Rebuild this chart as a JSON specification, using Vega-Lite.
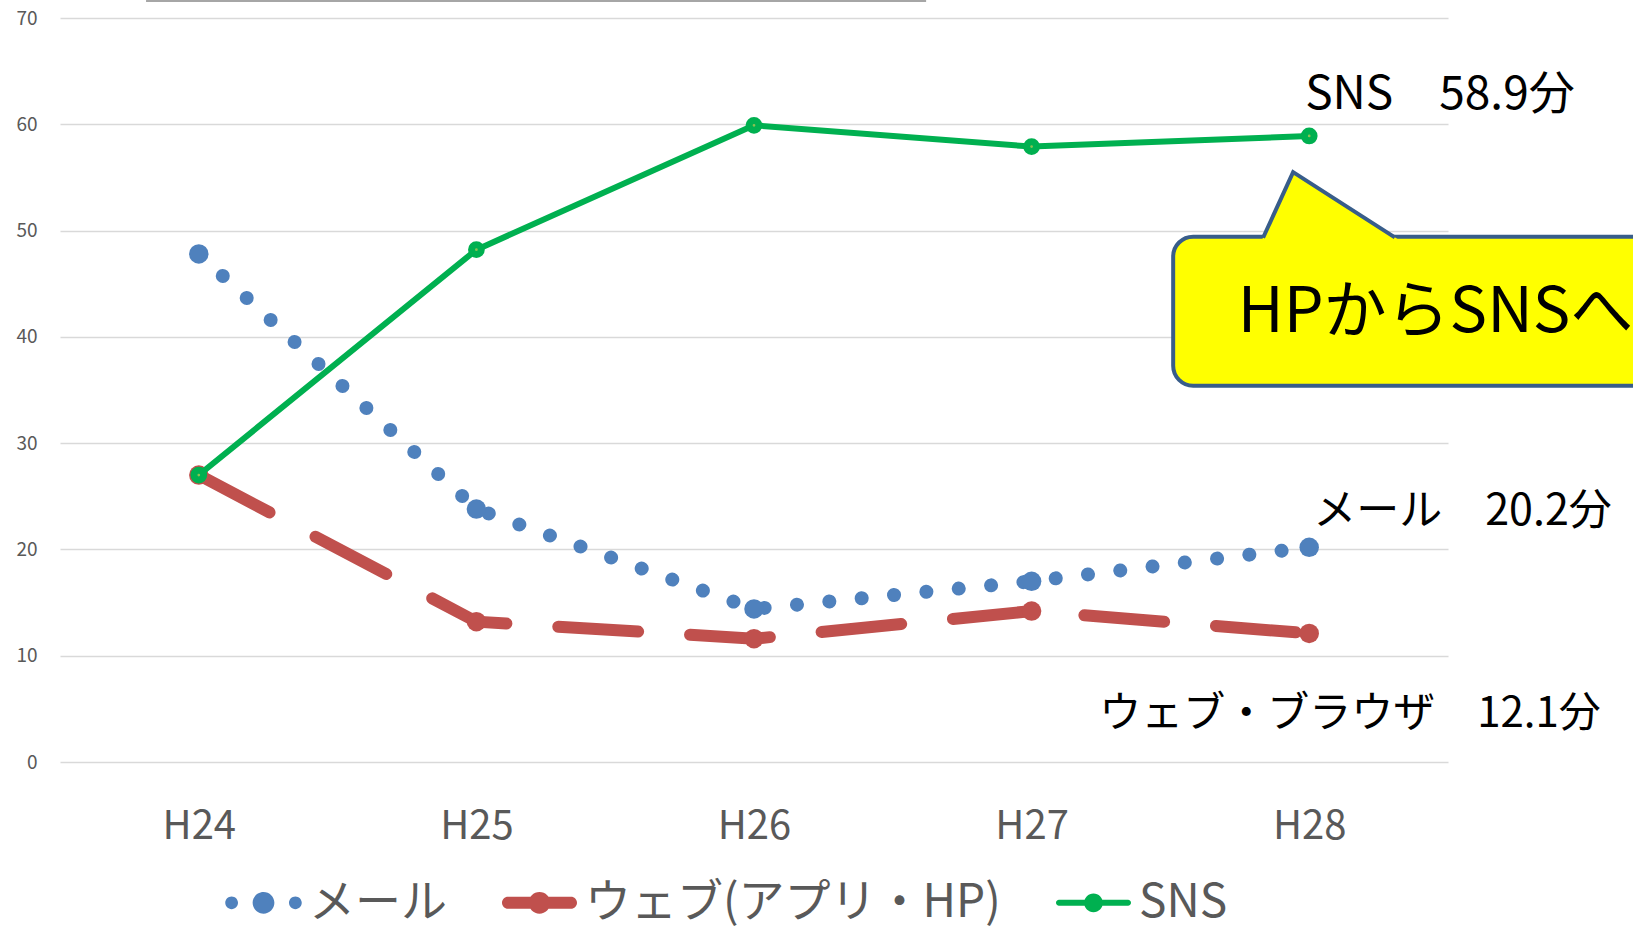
{
  "$schema": "https://vega.github.io/schema/vega-lite/v6.json",
  "width": 1388,
  "height": 744,
  "autosize": {"type": "none"},
  "padding": {"left": 60, "top": 18, "right": 185, "bottom": 168},
  "background": "white",
  "config": {"view": {"stroke": null}, "font": "Noto Sans CJK JP"},
  "data": {"values": [
    {"year": 24, "series": "メール", "value": 47.8},
    {"year": 25, "series": "メール", "value": 23.8},
    {"year": 26, "series": "メール", "value": 14.4},
    {"year": 27, "series": "メール", "value": 17.0},
    {"year": 28, "series": "メール", "value": 20.2},
    {"year": 24, "series": "ウェブ(アプリ・HP)", "value": 27.0},
    {"year": 25, "series": "ウェブ(アプリ・HP)", "value": 13.2},
    {"year": 26, "series": "ウェブ(アプリ・HP)", "value": 11.6},
    {"year": 27, "series": "ウェブ(アプリ・HP)", "value": 14.2},
    {"year": 28, "series": "ウェブ(アプリ・HP)", "value": 12.1},
    {"year": 24, "series": "SNS", "value": 27.0},
    {"year": 25, "series": "SNS", "value": 48.2},
    {"year": 26, "series": "SNS", "value": 59.9},
    {"year": 27, "series": "SNS", "value": 57.9},
    {"year": 28, "series": "SNS", "value": 58.9}
  ]},
  "layer": [
    {
      "encoding": {
        "x": {"field": "year", "type": "quantitative",
          "scale": {"domain": [23.5, 28.5], "nice": false, "zero": false},
          "axis": {"values": [24, 25, 26, 27, 28], "labelExpr": "'H' + datum.value", "title": null,
            "domain": false, "ticks": false, "grid": false, "labelFontSize": 40, "labelColor": "#595959",
            "labelPadding": 44, "labelFont": "Noto Sans CJK JP"}},
        "y": {"field": "value", "type": "quantitative",
          "scale": {"domain": [0, 70], "nice": false},
          "axis": {"values": [0, 10, 20, 30, 40, 50, 60, 70], "title": null, "domain": false, "ticks": false,
            "grid": true, "gridColor": "#D9D9D9", "gridWidth": 1.5, "labelFontSize": 19,
            "labelColor": "#595959", "labelPadding": 23, "labelFont": "Noto Sans CJK JP"}}
      },
      "layer": [
        {
          "transform": [{"filter": "datum.series === 'メール'"}],
          "mark": {"type": "line", "color": "#4F81BD", "strokeWidth": 14, "strokeCap": "round", "strokeDash": [0.01, 32.5]}
        },
        {
          "transform": [{"filter": "datum.series === 'ウェブ(アプリ・HP)'"}],
          "mark": {"type": "line", "color": "#C0504D", "strokeWidth": 12, "strokeCap": "round", "strokeDash": [80, 52]}
        },
        {
          "transform": [{"filter": "datum.series !== 'SNS'"}],
          "mark": {"type": "point", "filled": true, "size": 380, "opacity": 1, "shape": "circle"},
          "encoding": {
            "color": {"field": "series", "type": "nominal",
              "scale": {"domain": ["メール", "ウェブ(アプリ・HP)", "SNS"], "range": ["#4F81BD", "#C0504D", "#00B050"]},
              "legend": {"orient": "none", "legendX": 166, "legendY": 847, "direction": "horizontal", "title": null,
                "labelFontSize": 46, "labelColor": "#595959", "labelLimit": 1000, "labelFont": "Noto Sans CJK JP",
                "symbolSize": 5625, "labelOffset": 8, "columnPadding": 55, "symbolStrokeWidth": 0, "symbolOpacity": 1,
                "encode": {"symbols": {"update": {
                  "shape": {"signal": "datum.value === 'メール' ? 'M -0.68 0 A 0.17 0.17 0 1 1 -1.02 0 A 0.17 0.17 0 1 1 -0.68 0 Z M 0.29 0 A 0.29 0.29 0 1 1 -0.29 0 A 0.29 0.29 0 1 1 0.29 0 Z M 1.02 0 A 0.17 0.17 0 1 1 0.68 0 A 0.17 0.17 0 1 1 1.02 0 Z' : datum.value === 'SNS' ? 'M -0.92 -0.08 L 0.92 -0.08 A 0.08 0.08 0 0 1 0.92 0.08 L -0.92 0.08 A 0.08 0.08 0 0 1 -0.92 -0.08 Z M 0.25 0 A 0.25 0.25 0 1 1 -0.25 0 A 0.25 0.25 0 1 1 0.25 0 Z' : 'M -0.84 -0.16 L 0.84 -0.16 A 0.16 0.16 0 0 1 0.84 0.16 L -0.84 0.16 A 0.16 0.16 0 0 1 -0.84 -0.16 Z M 0.29 0 A 0.29 0.29 0 1 1 -0.29 0 A 0.29 0.29 0 1 1 0.29 0 Z'"}
                }}}}
            }
          }
        },
        {
          "transform": [{"filter": "datum.series === 'SNS'"}],
          "mark": {"type": "line", "color": "#00B050", "strokeWidth": 6}
        },
        {
          "transform": [{"filter": "datum.series === 'SNS'"}],
          "mark": {"type": "point", "filled": false, "fill": "#8CC152", "stroke": "#00B050", "strokeWidth": 7, "size": 95, "opacity": 1, "fillOpacity": 1, "shape": "circle"}
        },
        {
          "transform": [{"filter": "datum.series === 'SNS' && datum.year === 28"}],
          "mark": {"type": "text", "text": "SNS　58.9分", "fontSize": 46, "color": "#000000", "align": "left", "baseline": "middle", "dx": -4, "dy": -41}
        },
        {
          "transform": [{"filter": "datum.series === 'メール' && datum.year === 28"}],
          "mark": {"type": "text", "text": "メール　20.2分", "fontSize": 43, "color": "#000000", "align": "left", "baseline": "middle", "dx": 4, "dy": -35}
        },
        {
          "transform": [{"filter": "datum.series === 'ウェブ(アプリ・HP)' && datum.year === 28"}],
          "mark": {"type": "text", "text": "ウェブ・ブラウザ　12.1分", "fontSize": 42, "color": "#000000", "align": "left", "baseline": "middle", "dx": -210, "dy": 81}
        }
      ]
    },
    {
      "data": {"values": [{"a": 1}]},
      "mark": {"type": "rule", "color": "#A6A6A6", "strokeWidth": 2},
      "encoding": {"x": {"datum": 23.81, "type": "quantitative"}, "x2": {"datum": 26.62}, "y": {"datum": 71.6, "type": "quantitative"}}
    },
    {
      "data": {"values": [{"a": 1}]},
      "mark": {"type": "rect", "fill": "#FFFF00", "stroke": "#385D8A", "strokeWidth": 4, "cornerRadius": 20},
      "encoding": {"x": {"datum": 27.51, "type": "quantitative"}, "x2": {"datum": 29.6}, "y": {"datum": 49.43, "type": "quantitative"}, "y2": {"datum": 35.4}}
    },
    {
      "data": {"values": [{"a": 1}]},
      "mark": {"type": "point", "filled": true, "color": "#FFFF00", "opacity": 1, "strokeWidth": 0, "size": 40000,
        "shape": "M -0.316 0.69 L 0 0 L 1.075 0.69 Z"},
      "encoding": {"x": {"datum": 27.942, "type": "quantitative"}, "y": {"datum": 55.5, "type": "quantitative"}}
    },
    {
      "data": {"values": [{"a": 1}]},
      "mark": {"type": "point", "filled": false, "color": "#385D8A", "fill": "transparent", "opacity": 1, "strokeWidth": 4, "strokeJoin": "miter", "size": 40000,
        "shape": "M -0.30 0.656 L 0 0 L 1.017 0.653"},
      "encoding": {"x": {"datum": 27.942, "type": "quantitative"}, "y": {"datum": 55.5, "type": "quantitative"}}
    },
    {
      "data": {"values": [{"a": 1}]},
      "mark": {"type": "text", "text": "HPからSNSへ", "fontSize": 63, "color": "#000000", "align": "left", "baseline": "alphabetic", "font": "Noto Sans CJK JP"},
      "encoding": {"x": {"datum": 27.743, "type": "quantitative"}, "y": {"datum": 40.5, "type": "quantitative"}}
    }
  ]
}
